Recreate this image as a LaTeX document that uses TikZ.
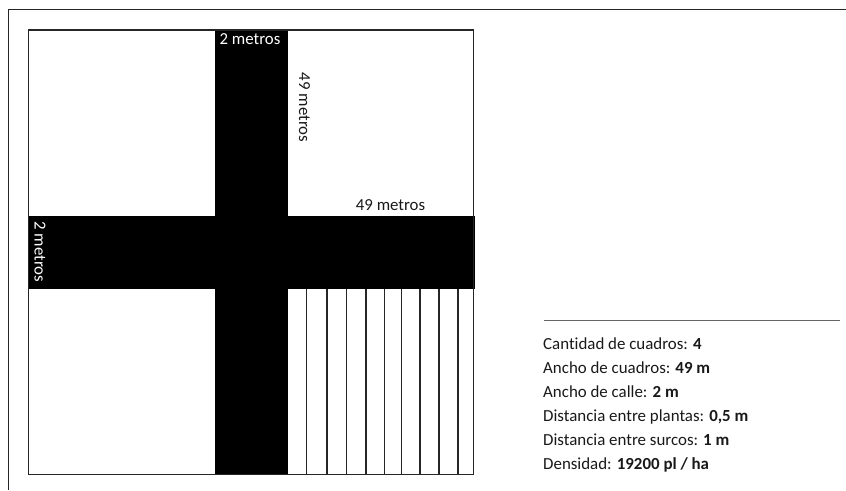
\documentclass[tikz,border=0pt]{standalone}
\usepackage{fontspec}
\setmainfont[Ligatures=NoCommon]{Carlito}
\tikzset{
  px/.style={x=1pt,y=-1pt},
  frameline/.style={draw=black!85,line width=1.1pt},
  road/.style={fill=black,draw=none},
  furrow/.style={draw=black!85,line width=1.1pt},
  lbl/.style={font=\fontsize{16.8}{17}\selectfont,inner sep=0pt,text=black!90},
  lblw/.style={lbl,text=white},
  info/.style={font=\fontsize{16.9}{24}\selectfont,inner sep=0pt,anchor=north west,align=left,text=black!90}
}
\begin{document}
\begin{tikzpicture}[px]
\useasboundingbox (0,0) rectangle (846,490);
\fill[white] (0,0) rectangle (846,490);
\draw[frameline] (8.7,490) -- (8.7,9.7) -- (846,9.7);
% field
\fill[road] (215,30) rectangle (287.5,474.5);
\fill[road] (28.5,216) rectangle (474.5,289);
\draw[frameline,line width=1.5pt] (28.7,30) rectangle (473.3,474.3);
\foreach \x in {306.7,327,346.7,366,384.7,401.7,420,439,458}
  \draw[furrow] (\x,289) -- (\x,474);
\node[lblw] (w2) at (250,39) {2 metros};
\node[lblw,rotate=-90] (h2) at (40,252) {2 metros};
\node[lbl,rotate=-90] (h49) at (304.5,107.5) {49 metros};
\node[lbl] (w49) at (390.5,205.5) {49 metros};
\draw[draw=black!60,line width=1pt] (544,320.7) -- (840,320.7);
\node[info] (data) at (543,337.5) {Cantidad de cuadros: \textbf{4}\\
Ancho de cuadros: \textbf{49 m}\\
Ancho de calle: \textbf{2 m}\\
Distancia entre plantas: \textbf{0,5 m}\\
Distancia entre surcos: \textbf{1 m}\\
Densidad: \textbf{19200 pl / ha}};
\end{tikzpicture}
\end{document}
